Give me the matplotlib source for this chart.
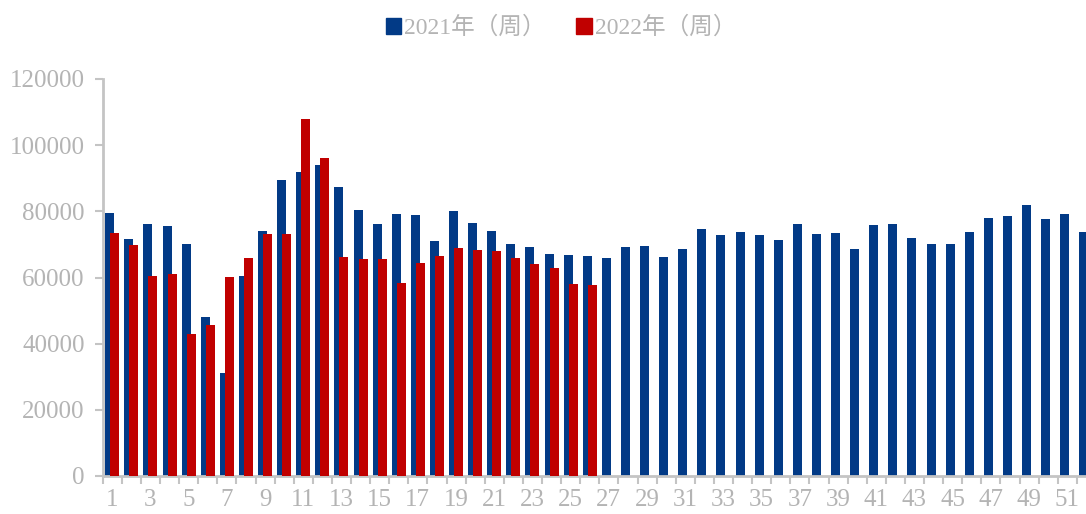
import matplotlib
matplotlib.use("Agg")
import matplotlib.pyplot as plt
from matplotlib.patches import Rectangle
import numpy as np

weeks = list(range(1, 53))
values_2021 = [79500, 71500, 76200, 75600, 70000, 48200, 31200, 60500, 74000, 89500,
               91800, 93900, 87300, 80500, 76300, 79200, 78800, 71000, 80200, 76600,
               74200, 70200, 69300, 67100, 66900, 66600, 65900, 69300, 69500, 66300,
               68700, 74600, 72900, 73800, 72800, 71300, 76200, 73000, 73600, 68700,
               76000, 76200, 72000, 70200, 70200, 73900, 78000, 78600, 81900, 77600,
               79200, 73900]
values_2022 = [73500, 69700, 60400, 61000, 42900, 45600, 60200, 65900, 73100, 73100,
               108000, 96100, 66300, 65600, 65700, 58400, 64300, 66500, 69000, 68400,
               67900, 66000, 64100, 63000, 57900, 57600]
xtick_labels = [str(w) for w in range(1, 53, 2)]
yticks = [0, 20000, 40000, 60000, 80000, 100000, 120000]
series_names = ["2021年（周）", "2022年（周）"]

BLUE = "#023A86"
RED = "#C00000"
GRAY_TEXT = "#B4B4B4"
AXIS_COL = "#C4C4C4"

W, H = 1086, 514
fig = plt.figure(figsize=(W / 100, H / 100), dpi=100)
left = 102.7 / W
width = (52 * 19.10) / W
bottom = (514 - 476) / H
height = 397 / H
ax = fig.add_axes([left, bottom, width, height])

x1 = np.array(weeks, dtype=float)
x2 = np.arange(1, len(values_2022) + 1, dtype=float)
bw = 0.47
off = 0.13
ax.bar(x1 - off, values_2021, width=bw, color=BLUE, zorder=2)
ax.bar(x2 + off, values_2022, width=bw, color=RED, zorder=3)

ax.set_xlim(0.5, 52.5)
ax.set_ylim(0, 120000)

for s in ["top", "right"]:
    ax.spines[s].set_visible(False)
for s in ["left", "bottom"]:
    ax.spines[s].set_color(AXIS_COL)
    ax.spines[s].set_linewidth(2)

serif = ["Liberation Serif", "DejaVu Serif"]
ax.set_yticks(yticks)
ax.set_yticklabels([str(v) for v in yticks], fontfamily=serif, fontsize=18, color=GRAY_TEXT)
ax.tick_params(axis="y", direction="out", length=6, width=1.5, color=AXIS_COL, pad=7)

ax.set_xticks(np.arange(0.5, 53.0, 1.0))
ax.set_xticklabels([])
ax.tick_params(axis="x", which="major", direction="out", length=6, width=1.5, color=AXIS_COL)
ax.set_xticks(np.arange(1, 53, 2), minor=True)
ax.set_xticklabels(xtick_labels, minor=True, fontfamily=serif, fontsize=18, color=GRAY_TEXT)
ax.tick_params(axis="x", which="minor", length=0, pad=9.5)

handles = [Rectangle((0, 0), 1, 1, color=BLUE), Rectangle((0, 0), 1, 1, color=RED)]
leg = fig.legend(handles, series_names, loc="center", bbox_to_anchor=(561 / W, 1 - 28 / H),
                 ncol=2, frameon=False, handlelength=0.66, handleheight=0.68,
                 handletextpad=0.12, columnspacing=1.3,
                 prop={"family": ["Liberation Serif", "Noto Sans CJK SC"], "size": 17})
for t in leg.get_texts():
    t.set_color(GRAY_TEXT)

fig.savefig("out.png", dpi=100)
